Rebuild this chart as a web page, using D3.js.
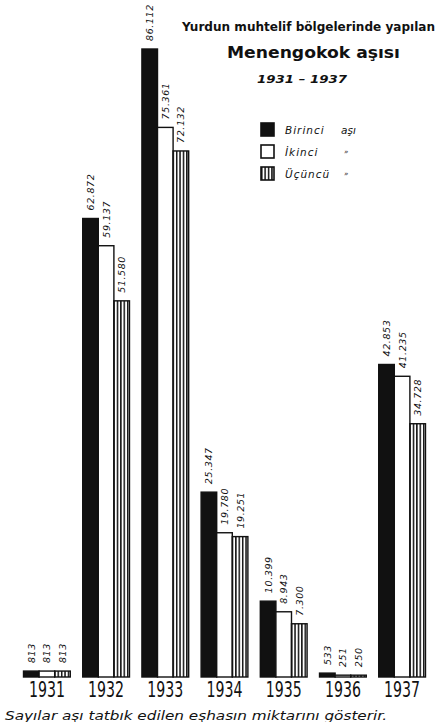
<!DOCTYPE html>
<html><head><meta charset="utf-8">
<script src="https://cdn.jsdelivr.net/npm/d3@7"></script>
<style>body{margin:0;background:#fff}svg{display:block}</style>
</head><body>
<svg id="c" width="446" height="722"></svg>
<script>
const years = ["1931","1932","1933","1934","1935","1936","1937"];
const series = ["Birinci","İkinci","Üçüncü"];
const birinci = [813, 62872, 86112, 25347, 10399, 533, 42853];
const ikinci  = [813, 59137, 75361, 19780, 8943, 251, 41235];
const ucuncu  = [813, 51580, 72132, 19251, 7300, 250, 34728];
const legendLabels = ["Birinci","İkinci","Üçüncü"];
const legendSuffix = ["aşı","»","»"];
const titleLines = ["Yurdun muhtelif bölgelerinde yapılan","Menengokok aşısı","1931 – 1937"];
const footnote = "Sayılar aşı tatbık edilen eşhasın miktarını gösterir.";

const svg = d3.select("#c");
const defs = svg.append("defs");
const pat = defs.append("pattern").attr("id","hatch").attr("patternUnits","userSpaceOnUse")
  .attr("width",3.4).attr("height",10);
pat.append("rect").attr("width",3.4).attr("height",10).attr("fill","#fff");
pat.append("rect").attr("x",0).attr("width",1.5).attr("height",10).attr("fill","#111");

const fills = ["#111","#fff","url(#hatch)"];
const data = years.map((y,i)=>({year:y, vals:[birinci[i],ikinci[i],ucuncu[i]]}));

const x0 = d3.scaleBand().domain(years).range([17,432]).paddingInner(0.21).paddingOuter(0.11);
const x1 = d3.scaleBand().domain(series).range([0,x0.bandwidth()]);
const y = d3.scaleLinear().domain([0,86112]).range([677,49]);

const fmt = d3.formatLocale({decimal:",",thousands:".",grouping:[3]}).format(",");

const g = svg.append("g").selectAll("g").data(data).join("g")
  .attr("transform",d=>`translate(${x0(d.year)},0)`);

g.selectAll("rect").data(d=>d.vals.map((v,k)=>({v,k}))).join("rect")
  .attr("x",d=>x1(series[d.k]))
  .attr("y",d=>y(d.v))
  .attr("width",x1.bandwidth())
  .attr("height",d=>y(0)-y(d.v))
  .attr("fill",d=>fills[d.k])
  .attr("stroke","#111").attr("stroke-width",1.4);

g.selectAll("text.val").data(d=>d.vals.map((v,k)=>({v,k}))).join("text")
  .attr("class","val")
  .attr("transform",d=>`translate(${x1(series[d.k])+x1.bandwidth()/2+3.5},${y(d.v)-8}) rotate(-90)`)
  .attr("font-family","DejaVu Sans").attr("font-style","italic")
  .attr("font-size",9.5).attr("letter-spacing",0.6).attr("fill","#111")
  .text(d=>fmt(d.v));

// year labels
svg.append("g").selectAll("text").data(years).join("text")
  .attr("x",d=>x0(d)+x0.bandwidth()/2-18)
  .attr("y",697)
  .attr("font-family","DejaVu Sans Condensed, DejaVu Sans")
  .attr("font-size",21)
  .attr("textLength",36).attr("lengthAdjust","spacingAndGlyphs")
  .attr("fill","#111")
  .text(d=>d);

// title
const t = svg.append("g").attr("font-family","DejaVu Sans").attr("fill","#111");
t.append("text").attr("x",182).attr("y",31).attr("font-size",12).attr("font-weight","bold")
  .attr("textLength",253).attr("lengthAdjust","spacingAndGlyphs").text(titleLines[0]);
t.append("text").attr("x",227).attr("y",58).attr("font-size",16.5).attr("font-weight","bold")
  .attr("textLength",173).attr("lengthAdjust","spacingAndGlyphs").text(titleLines[1]);
t.append("text").attr("x",257).attr("y",83).attr("font-size",11).attr("font-weight","bold").attr("font-style","italic")
  .attr("textLength",90).attr("lengthAdjust","spacingAndGlyphs").text(titleLines[2]);

// legend
const lg = svg.append("g").selectAll("g").data(legendLabels).join("g")
  .attr("transform",(d,i)=>`translate(261,${123+i*22})`);
lg.append("rect").attr("width",13).attr("height",13)
  .attr("fill",(d,i)=>fills[i]).attr("stroke","#111").attr("stroke-width",1.6);
lg.append("text").attr("x",24).attr("y",11).attr("font-family","DejaVu Sans").attr("font-style","italic")
  .attr("font-size",10.5).attr("letter-spacing",1).attr("fill","#111").text(d=>d);
lg.append("text").attr("x",(d,i)=>i===0?80:83).attr("y",(d,i)=>i===0?11:9)
  .attr("font-family","DejaVu Sans").attr("font-style","italic")
  .attr("font-size",(d,i)=>i===0?10.5:7).attr("fill","#111").text((d,i)=>legendSuffix[i]);

// footnote
svg.append("text").attr("x",5).attr("y",720).attr("font-family","DejaVu Sans").attr("font-style","italic")
  .attr("font-size",11.5).attr("textLength",382).attr("lengthAdjust","spacingAndGlyphs")
  .attr("fill","#111").text(footnote);
</script>
</body></html>
